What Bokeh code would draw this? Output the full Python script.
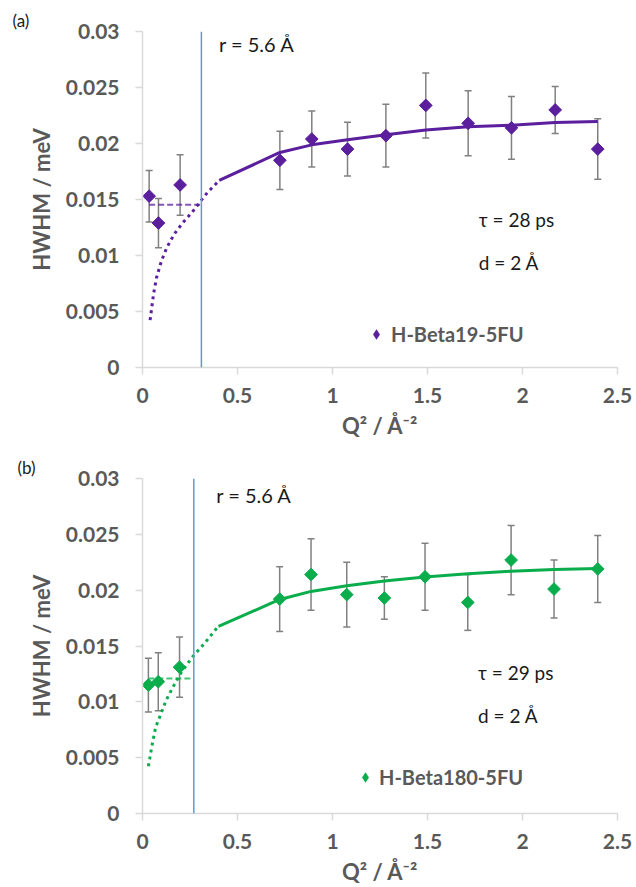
import numpy as np
from bokeh.plotting import figure
from bokeh.layouts import column
from bokeh.models import (ColumnDataSource, Whisker, TeeHead, Span, Label, Title,
                          Legend, LegendItem, FixedTicker, Range1d)
from bokeh.embed import file_html
from bokeh.resources import INLINE

# ---- axis ticks -------------------------------------------------------------
X_TICKS = [0, 0.5, 1, 1.5, 2, 2.5]
X_TICK_LABELS = ["0", "0.5", "1", "1.5", "2", "2.5"]
Y_TICKS = [0, 0.005, 0.01, 0.015, 0.02, 0.025, 0.03]
Y_TICK_LABELS = ["0", "0.005", "0.01", "0.015", "0.02", "0.025", "0.03"]

# ---- panel (a): H-Beta19-5FU ----------------------------------------------------
q2_a = [0.035, 0.084, 0.198, 0.723, 0.891, 1.079, 1.281, 1.491, 1.714, 1.942, 2.172, 2.396]
hwhm_a = [0.0153, 0.0129, 0.0163, 0.0185, 0.0204, 0.0195, 0.0207, 0.0234, 0.0218, 0.0214, 0.0230, 0.0195]
err_a = [0.0023, 0.0022, 0.0027, 0.0026, 0.0025, 0.0024, 0.0028, 0.0029, 0.0029, 0.0028, 0.0021, 0.0027]
fit_q2_a = [0.404, 0.723, 0.891, 1.079, 1.281, 1.491, 1.714, 1.942, 2.172, 2.396]
fit_a = [0.0167, 0.0192, 0.01988, 0.02033, 0.02078, 0.0212, 0.0215, 0.02164, 0.02188, 0.02196]
low_q2_a = [0.040, 0.058, 0.074, 0.100, 0.128, 0.167, 0.211, 0.263, 0.307, 0.342, 0.404]
low_a = [0.00423, 0.00655, 0.00804, 0.00953, 0.01071, 0.01191, 0.0129, 0.0139, 0.01488, 0.01563, 0.0167]
plateau_q2_a = [0.035, 0.31]
plateau_a = [0.01453, 0.01453]
r_q2_a = 0.31

# ---- panel (b): H-Beta180-5FU ---------------------------------------------------
q2_b = [0.031, 0.083, 0.195, 0.722, 0.887, 1.075, 1.273, 1.487, 1.712, 1.940, 2.166, 2.396]
hwhm_b = [0.0115, 0.0118, 0.0131, 0.0192, 0.0214, 0.0196, 0.0193, 0.0212, 0.0189, 0.0227, 0.0201, 0.0219]
err_b = [0.0024, 0.0026, 0.0027, 0.0029, 0.0032, 0.0029, 0.0019, 0.0030, 0.0025, 0.0031, 0.0026, 0.0030]
fit_q2_b = [0.400, 0.722, 0.887, 1.075, 1.273, 1.487, 1.712, 1.940, 2.166, 2.396]
fit_b = [0.01675, 0.01917, 0.01989, 0.02039, 0.02083, 0.02118, 0.02146, 0.0217, 0.02184, 0.02193]
low_q2_b = [0.031, 0.049, 0.069, 0.096, 0.122, 0.157, 0.200, 0.261, 0.322, 0.391]
low_b = [0.00423, 0.00598, 0.00772, 0.00888, 0.01005, 0.01122, 0.01253, 0.01398, 0.01515, 0.0166]
plateau_q2_b = [0.031, 0.27]
plateau_b = [0.01209, 0.01209]
r_q2_b = 0.27

FONT = "Lato"
AXIS_GREY = "#d9d9d9"
TEXT_GREY = "#595959"
ERR_GREY = "#808080"
R_BLUE = "#5b9bd5"


def make_panel(tag, name, tau_text, color, q2, hwhm, err, fit_q2, fit, low_q2, low,
               plat_q2, plat, r_q2, height, borders, tag_offset, r_xy, tau_xy, d_xy,
               leg_loc, leg_standoff):
    top, right, bottom, left = borders
    p = figure(width=636, height=height, output_backend="svg", toolbar_location=None,
               x_range=Range1d(0, 2.5), y_range=Range1d(0, 0.03),
               min_border_top=top, min_border_right=right,
               min_border_bottom=bottom, min_border_left=left)
    p.outline_line_color = None
    p.grid.visible = False
    p.background_fill_color = "white"
    p.border_fill_color = "white"

    # panel tag, set as a left-aligned title pulled out past the y axis
    p.add_layout(Title(text=tag, align="left", offset=tag_offset, standoff=2,
                       text_font=FONT, text_font_size="17px",
                       text_font_style="normal", text_color="#1a1a1a"), "above")

    # axes
    p.xaxis.ticker = FixedTicker(ticks=X_TICKS)
    p.xaxis.major_label_overrides = dict(zip(X_TICKS, X_TICK_LABELS))
    p.yaxis.ticker = FixedTicker(ticks=Y_TICKS)
    p.yaxis.major_label_overrides = dict(zip(Y_TICKS, Y_TICK_LABELS))
    for ax in (p.xaxis[0], p.yaxis[0]):
        ax.axis_line_color = AXIS_GREY
        ax.axis_line_width = 1.5
        ax.major_tick_line_color = AXIS_GREY
        ax.major_tick_line_width = 1.5
        ax.major_tick_in = 0
        ax.major_tick_out = 7
        ax.minor_tick_line_color = None
        ax.major_label_text_font = FONT
        ax.major_label_text_font_style = "bold"
        ax.major_label_text_font_size = "21px"
        ax.major_label_text_color = TEXT_GREY
        ax.axis_label_text_font = FONT
        ax.axis_label_text_font_style = "bold"
        ax.axis_label_text_font_size = "22px"
        ax.axis_label_text_color = TEXT_GREY
    p.xaxis.axis_label = "Q² / Å⁻²"
    p.xaxis.major_label_standoff = 13
    p.xaxis.axis_label_standoff = 6
    p.yaxis.axis_label = "HWHM / meV"
    p.yaxis.major_label_standoff = 16
    p.yaxis.axis_label_standoff = 8

    # error bars
    src = ColumnDataSource(dict(q2=q2, hwhm=hwhm,
                                upper=np.array(hwhm) + np.array(err),
                                lower=np.array(hwhm) - np.array(err)))
    p.add_layout(Whisker(base="q2", upper="upper", lower="lower", source=src,
                         line_color=ERR_GREY, line_width=1.5,
                         upper_head=TeeHead(size=7, line_color=ERR_GREY, line_width=1.5),
                         lower_head=TeeHead(size=7, line_color=ERR_GREY, line_width=1.5)))

    # radius marker
    p.add_layout(Span(location=r_q2, dimension="height", line_color=R_BLUE, line_width=1.5))

    # model curves
    p.line(plat_q2, plat, line_color=color, line_width=2, line_dash="6 3", line_alpha=0.75)
    p.line(low_q2, low, line_color=color, line_width=3, line_dash="3 4")
    p.line(fit_q2, fit, line_color=color, line_width=3)

    # measured points: diamonds drawn as squares turned by 45 degrees
    p.scatter("q2", "hwhm", source=src, marker="square", angle=np.pi / 4, size=9,
              fill_color=color, line_color=color)
    # zero-size diamond renderer that supplies the legend swatch
    key = p.scatter("q2", "hwhm", source=src, marker="diamond", size=0,
                    fill_color=color, line_color=color, line_alpha=0)

    legend = Legend(items=[LegendItem(label=name, renderers=[key])],
                    location=leg_loc, orientation="vertical",
                    glyph_width=26, glyph_height=26, label_standoff=leg_standoff,
                    padding=0, margin=0, spacing=0,
                    border_line_color=None, background_fill_alpha=0,
                    label_text_font=FONT, label_text_font_style="bold",
                    label_text_font_size="20px", label_text_color=TEXT_GREY)
    p.add_layout(legend)

    def note(xy, text, size):
        p.add_layout(Label(x=xy[0], y=xy[1], text=text, text_font=FONT,
                           text_font_size=size, text_color="#1a1a1a",
                           text_baseline="middle", text_align="left"))

    note(r_xy, "r = 5.6 Å", "20px")
    note(tau_xy, tau_text, "19px")
    note(d_xy, "d = 2 Å", "19px")
    return p


pa = make_panel("(a)", "H-Beta19-5FU", "τ = 28 ps", "#5b1f9e",
                q2_a, hwhm_a, err_a, fit_q2_a, fit_a, low_q2_a, low_a,
                plateau_q2_a, plateau_a, r_q2_a,
                height=443, borders=(31, 19, 76, 140), tag_offset=-130,
                r_xy=(0.403, 0.0289), tau_xy=(1.77, 0.0132), d_xy=(1.77, 0.0094),
                leg_loc=(221, 20), leg_standoff=2)

pb = make_panel("(b)", "H-Beta180-5FU", "τ = 29 ps", "#0aad4c",
                q2_b, hwhm_b, err_b, fit_q2_b, fit_b, low_q2_b, low_b,
                plateau_q2_b, plateau_b, r_q2_b,
                height=444, borders=(35, 15, 66, 142), tag_offset=-125,
                r_xy=(0.388, 0.02854), tau_xy=(1.766, 0.01267), d_xy=(1.766, 0.00882),
                leg_loc=(210, 23), leg_standoff=1)

layout = column(pa, pb, spacing=0)
open("out.html", "w").write(file_html(layout, INLINE))
